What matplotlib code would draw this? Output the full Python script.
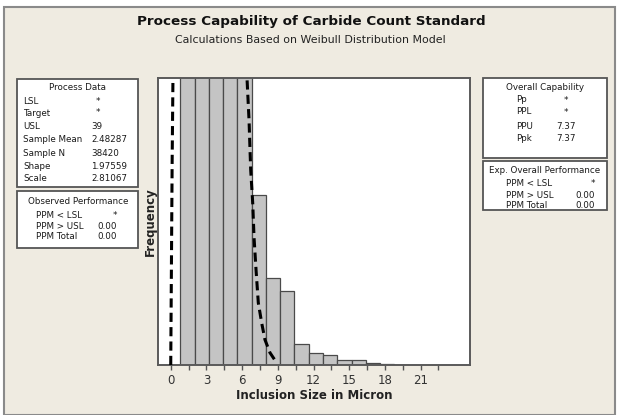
import matplotlib
matplotlib.use("Agg")
import matplotlib.pyplot as plt
from matplotlib.patches import Rectangle
import numpy as np

W, H = 618, 415

# ---- data ----
bin_edges = [0.8, 2.0, 3.2, 4.4, 5.6, 6.8, 8.0, 9.2, 10.4, 11.6, 12.8, 14.0, 15.2, 16.4, 17.6, 18.8, 20.0]
bin_counts = [5200, 6000, 4200, 2200, 900, 249, 128, 109, 31, 17, 15, 7, 7, 2.5, 1.0, 0.5]
y_top = 420

curve_left_x = [0.0, 0.06, 0.12, 0.22]
curve_left_y = [0, 150, 300, 480]
curve_right_x = [6.3, 6.41, 6.58, 6.72, 6.89, 7.00, 7.17, 7.36, 7.65, 7.92, 8.34, 8.76]
curve_right_y = [480, 420, 359, 286, 237, 187, 139, 91, 61, 37, 18, 7]

xticks_major = [0, 3, 6, 9, 12, 15, 18, 21]
xticks_minor = [1.5, 4.5, 7.5, 10.5, 13.5, 16.5, 19.5, 22.5]

process_labels = ["LSL", "Target", "USL", "Sample Mean", "Sample N", "Shape", "Scale"]
process_values = ["*", "*", "39", "2.48287", "38420", "1.97559", "2.81067"]
obs_labels = ["PPM < LSL", "PPM > USL", "PPM Total"]
obs_values = ["*", "0.00", "0.00"]
cap_labels = ["Pp", "PPL", "PPU", "Ppk"]
cap_values = ["*", "*", "7.37", "7.37"]
exp_labels = ["PPM < LSL", "PPM > USL", "PPM Total"]
exp_values = ["*", "0.00", "0.00"]

BG = "#EFEBE1"
plt.rcParams['font.family'] = ['DejaVu Sans']

fig = plt.figure(figsize=(W / 100, H / 100), dpi=100)
fig.patch.set_facecolor("white")

def fx(x):
    return x / W

def fy(y):
    return 1 - y / H

# window background
fig.patches.append(Rectangle((fx(4), fy(415)), fx(611), (H - 7) / H, transform=fig.transFigure,
                             facecolor=BG, edgecolor="#8a8a8a", linewidth=1.5, zorder=-5))

ax = fig.add_axes([fx(158), fy(365), fx(470) - fx(158), (365 - 78.3) / H])
ax.set_zorder(3)
ax.set_facecolor("white")
widths = np.diff(bin_edges)
ax.bar(bin_edges[:-1], bin_counts, width=widths, align="edge",
       color="#C4C4C4", edgecolor="#4a4a4a", linewidth=0.9, zorder=2)
ax.plot(curve_left_x, curve_left_y, color="black", lw=2.2, dashes=(3.0, 1.7), zorder=3)
ax.plot(curve_right_x, curve_right_y, color="black", lw=2.2, dashes=(3.0, 1.7), zorder=3)
ax.set_xlim(-1.07, 25.15)
ax.set_ylim(0, y_top)
ax.set_yticks([])
ax.set_xticks(xticks_major)
ax.set_xticklabels([str(t) for t in xticks_major])
ax.set_xticks(xticks_minor, minor=True)
ax.tick_params(axis="x", which="both", direction="out", length=3.5, width=1.0,
               color="#555555", labelsize=8.5, labelcolor="#333333", pad=3)
for s in ax.spines.values():
    s.set_color("#5a5a5a")
    s.set_linewidth(1.4)

fig.text(fx(314), fy(395), "Inclusion Size in Micron", ha="center", va="center",
         fontsize=8.5, fontweight="bold", color="#222222")
fig.text(fx(150), fy(222), "Frequency", ha="center", va="center", rotation=90,
         fontsize=8.5, fontweight="bold", color="#222222")

fig.text(fx(311), fy(21), "Process Capability of Carbide Count Standard", ha="center",
         va="center", fontsize=9.7, fontweight="bold", color="#111111")
fig.text(fx(310), fy(40), "Calculations Based on Weibull Distribution Model", ha="center",
         va="center", fontsize=7.9, color="#222222")

def box(x0, y0, x1, y1):
    fig.patches.append(Rectangle((fx(x0), fy(y1)), fx(x1) - fx(x0), (y1 - y0) / H,
                                 transform=fig.transFigure, facecolor="white",
                                 edgecolor="#555555", linewidth=1.3, zorder=1))

FS = 6.3
TC = "#1a1a1a"

def t(x, y, s, ha="left"):
    fig.text(fx(x), fy(y), s, ha=ha, va="center", fontsize=FS, color=TC, zorder=2)

# Process Data
box(17, 79, 138, 187)
t(77.7, 88, "Process Data", ha="center")
rows_pd = [101.5, 113, 126.5, 140, 153, 166.5, 178.5]
for lab, val, y in zip(process_labels, process_values, rows_pd):
    t(23, y, lab)
    t(95.5 if val == "*" else 91.5, y, val)

# Observed Performance
box(17, 191, 138, 248)
t(77.7, 201, "Observed Performance", ha="center")
for lab, val, y in zip(obs_labels, obs_values, [215, 226, 236.5]):
    t(36, y, lab)
    t(117, y, val, ha="right")

# Overall Capability
box(483, 78, 607, 158)
t(545, 87, "Overall Capability", ha="center")
for lab, val, y in zip(cap_labels, cap_values, [100, 112, 126.5, 138.5]):
    t(516, y, lab)
    t(566, y, val, ha="center")

# Exp. Overall Performance
box(483, 161, 607, 210)
t(545, 170, "Exp. Overall Performance", ha="center")
for lab, val, y in zip(exp_labels, exp_values, [183.5, 195, 205.5]):
    t(506, y, lab)
    t(595, y, val, ha="right")

fig.savefig("out.png", dpi=100, facecolor=fig.get_facecolor())
